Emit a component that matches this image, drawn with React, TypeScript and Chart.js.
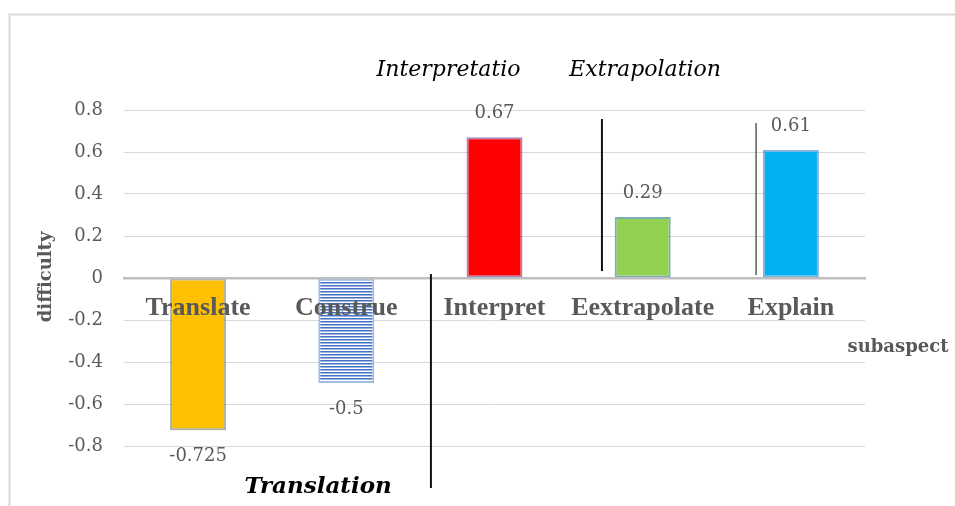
import { useEffect, useRef } from "react";
import { Chart, registerables } from "chart.js";

Chart.register(...registerables);

// Sub-aspect difficulty values
const categories = ["Translate", "Construe", "Interpret", "Eextrapolate", "Explain"];
const difficulty = [-0.725, -0.5, 0.67, 0.29, 0.61];
const valueLabels = ["-0.725", "-0.5", "0.67", "0.29", "0.61"];
const yTickValues = [-0.8, -0.6, -0.4, -0.2, 0, 0.2, 0.4, 0.6, 0.8];

// Bar fills (the second bar uses a horizontal stripe pattern)
const barFills = ["#FFC000", "stripes", "#FF0000", "#92D050", "#00B0F0"];
const barEdges = [
  "rgba(120,128,130,0.65)",
  "rgba(120,160,215,0.7)",
  "rgba(120,70,150,0.65)",
  "rgba(70,140,150,0.7)",
  "rgba(40,130,200,0.6)",
];

// Group captions and dividers, placed in data space (x = category index, y = difficulty)
const groupCaptions = [
  { text: "Interpretatio", x: 1.69, y: 0.962, font: "italic 22px 'DejaVu Serif'" },
  { text: "Extrapolation", x: 3.016, y: 0.962, font: "italic 22px 'DejaVu Serif'" },
  { text: "Translation", x: 0.81, y: -1.024, font: "italic bold 23px 'DejaVu Serif'" },
];
const dividers = [
  { x: 1.571, y0: 0.019, y1: -1.0, color: "#111111", width: 2 },
  { x: 2.725, y0: 0.757, y1: 0.033, color: "#111111", width: 2 },
  { x: 3.765, y0: 0.738, y1: 0.014, color: "#444444", width: 1.3 },
];

function makeStripes(ctx: CanvasRenderingContext2D): CanvasPattern | string {
  const c = document.createElement("canvas");
  c.width = 8;
  c.height = 3;
  const g = c.getContext("2d");
  if (!g) return "#7f9fd8";
  g.fillStyle = "#ffffff";
  g.fillRect(0, 0, 8, 3);
  g.fillStyle = "#4472C4";
  g.fillRect(0, 0, 8, 1);
  g.fillStyle = "#9db4e0";
  g.fillRect(0, 1, 8, 1);
  return ctx.createPattern(c, "repeat") || "#7f9fd8";
}

const overlayPlugin = {
  id: "overlay",
  beforeDraw(chart: any) {
    const { ctx, width, height } = chart;
    ctx.save();
    ctx.fillStyle = "#ffffff";
    ctx.fillRect(0, 0, width, height);
    // outer frame
    ctx.strokeStyle = "#d9d9d9";
    ctx.lineWidth = 2;
    ctx.beginPath();
    ctx.moveTo(9.5, height);
    ctx.lineTo(9.5, 14.5);
    ctx.lineTo(width, 14.5);
    ctx.stroke();
    ctx.restore();
  },
  afterDatasetsDraw(chart: any) {
    const { ctx } = chart;
    const meta = chart.getDatasetMeta(0);
    ctx.save();
    ctx.font = "18px 'DejaVu Serif'";
    ctx.fillStyle = "#595959";
    ctx.textAlign = "center";
    ctx.textBaseline = "middle";
    meta.data.forEach((bar: any, i: number) => {
      const v = difficulty[i];
      const y = v >= 0 ? bar.y - 24 : bar.y + 26;
      ctx.fillText(valueLabels[i], bar.x, y);
    });
    ctx.restore();
  },
  afterDraw(chart: any) {
    const { ctx, chartArea } = chart;
    const xs = chart.scales.x;
    const ys = chart.scales.y;
    ctx.save();
    // dividers between groups
    dividers.forEach((d) => {
      const x = xs.getPixelForValue(d.x);
      ctx.strokeStyle = d.color;
      ctx.lineWidth = d.width;
      ctx.beginPath();
      ctx.moveTo(x, ys.getPixelForValue(d.y0));
      ctx.lineTo(x, ys.getPixelForValue(d.y1));
      ctx.stroke();
    });
    // group captions
    ctx.fillStyle = "#000000";
    ctx.textAlign = "center";
    ctx.textBaseline = "alphabetic";
    groupCaptions.forEach((c) => {
      ctx.font = c.font;
      ctx.fillText(c.text, xs.getPixelForValue(c.x), ys.getPixelForValue(c.y));
    });
    // axis titles
    ctx.fillStyle = "#595959";
    ctx.font = "bold 18px 'DejaVu Serif'";
    ctx.textBaseline = "middle";
    ctx.fillText("subaspect", chartArea.right + 33, ys.getPixelForValue(-0.33));
    ctx.translate(46, ys.getPixelForValue(0.005));
    ctx.rotate(-Math.PI / 2);
    ctx.fillText("difficulty", 0, 0);
    ctx.restore();
  },
};

export default function App() {
  const canvasRef = useRef<HTMLCanvasElement | null>(null);

  useEffect(() => {
    const canvas = canvasRef.current;
    if (!canvas) return;
    const ctx = canvas.getContext("2d");
    if (!ctx) return;
    const stripes = makeStripes(ctx);
    const fills = barFills.map((f) => (f === "stripes" ? stripes : f));

    const chart = new Chart(canvas, {
      type: "bar",
      data: {
        labels: categories,
        datasets: [
          {
            data: difficulty,
            backgroundColor: fills as any,
            borderColor: barEdges,
            borderWidth: 2,
            borderSkipped: false,
            categoryPercentage: 1,
            barPercentage: 0.378,
          },
        ],
      },
      options: {
        responsive: false,
        animation: false,
        events: [],
        layout: { padding: { top: 110, bottom: 60, right: 90, left: 0 } },
        plugins: {
          legend: { display: false },
          tooltip: { enabled: false },
          title: { display: false },
        },
        scales: {
          x: {
            position: { y: 0 } as any,
            grid: { display: false, drawTicks: false },
            border: { display: true, color: "#bfbfbf", width: 2.5, z: 1 },
            ticks: {
              z: 1,
              autoSkip: false,
              maxRotation: 0,
              minRotation: 0,
              padding: 15,
              color: "#595959",
              font: { family: "'Liberation Serif'", size: 26, weight: "bold" },
            },
          },
          y: {
            min: -0.8,
            max: 0.8,
            afterFit: (scale: any) => {
              scale.width = 124;
            },
            afterBuildTicks: (scale: any) => {
              scale.ticks = yTickValues.map((value) => ({ value }));
            },
            grid: {
              drawTicks: false,
              color: (c: any) => (c.tick && Math.abs(c.tick.value) < 1e-9 ? "rgba(0,0,0,0)" : "#d9d9d9"),
              lineWidth: 1,
            },
            border: { display: false },
            ticks: {
              padding: 21,
              color: "#595959",
              font: { family: "'DejaVu Serif'", size: 18 },
              callback: (v: any) => {
                const n = Number(v);
                return Math.abs(n) < 1e-9 ? "0" : n.toFixed(1);
              },
            },
          },
        },
      },
      plugins: [overlayPlugin],
    });

    return () => chart.destroy();
  }, []);

  return (
    <div style={{ position: "absolute", left: 0, top: 0, width: 955, height: 506, background: "#fff" }}>
      <canvas ref={canvasRef} width={955} height={506} style={{ display: "block", width: 955, height: 506 }} />
    </div>
  );
}
